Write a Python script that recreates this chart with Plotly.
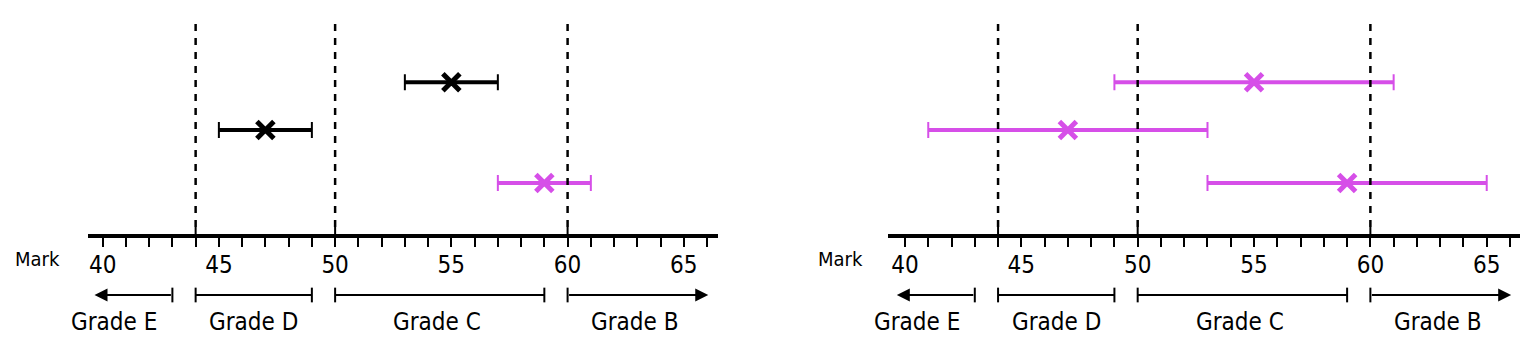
import plotly.graph_objects as go

# ---------------- data ----------------
marks = [55, 47, 59]                 # centre mark of each row (top -> bottom)
row_level = [3.9, 3.0, 2.0]          # vertical level of each row
left_err = [2, 2, 2]                 # +/- range, left panel
right_err = [6, 6, 6]                # +/- range, right panel
MAG = '#D64FE8'
left_colors = ['#000000', '#000000', MAG]
right_colors = [MAG, MAG, MAG]

boundaries = [44, 50, 60]            # dashed grade boundaries
grade_names = ['Grade E', 'Grade D', 'Grade C', 'Grade B']
grade_lo = [39.65, 44, 50, 60]       # arrow tip for open-ended grades
grade_hi = [43, 49, 59, 66.05]
grade_open = ['left', None, None, 'right']
grade_label_x = [40.5, 46.5, 54.4, 62.9]
tick_vals = [40, 45, 50, 55, 60, 65]

# ---------------- layout geometry ----------------
W, H = 1527, 352
PX_PER_LVL = 53.0
AXIS_PX = 236.0
y_bot = 1.0 - (H - AXIS_PX) / PX_PER_LVL
y_top = 1.0 + AXIS_PX / PX_PER_LVL
axis_pos = (1.0 - y_bot) / (y_top - y_bot)
BRACKET_LVL = 1.0 - (295 - AXIS_PX) / PX_PER_LVL
LABEL_LVL = 1.0 - (322 - AXIS_PX) / PX_PER_LVL
MARK_LVL = 1.0 - (259 - AXIS_PX) / PX_PER_LVL
TICKTOP_LVL = 1.0 + (AXIS_PX - 227) / PX_PER_LVL
DASHTOP_LVL = 1.0 + (AXIS_PX - 22) / PX_PER_LVL

FONT = 'DejaVu Sans Condensed, DejaVu Sans, sans-serif'

panels = [
    dict(xa='x', ya='y', xname='xaxis', yname='yaxis', dom=[88 / W, 718 / W],
         rng=[39.37, 66.47], err=left_err, colors=left_colors, mark_x=37.2 / W),
    dict(xa='x2', ya='y2', xname='xaxis2', yname='yaxis2', dom=[888 / W, 1520 / W],
         rng=[39.27, 66.43], err=right_err, colors=right_colors, mark_x=840 / W),
]

fig = go.Figure()
shapes, annotations = [], []
layout = {}


def arrow(p, tip, tail):
    return dict(x=tip, y=BRACKET_LVL, ax=tail, ay=BRACKET_LVL,
                xref=p['xa'], yref=p['ya'], axref=p['xa'], ayref=p['ya'],
                text='', showarrow=True, arrowhead=2, arrowsize=1.3,
                arrowwidth=2, arrowcolor='black', standoff=0, startstandoff=0)


for p in panels:
    # error bars: thick bar + thin caps + X marker
    for m, lvl, e, c in zip(marks, row_level, p['err'], p['colors']):
        fig.add_trace(go.Scatter(
            x=[m - e, m + e], y=[lvl, lvl], mode='lines',
            line=dict(color=c, width=4), xaxis=p['xa'], yaxis=p['ya'],
            hoverinfo='skip'))
        fig.add_trace(go.Scatter(
            x=[m], y=[lvl], mode='markers',
            marker=dict(symbol='x-thin', size=17, color=c,
                        line=dict(color=c, width=5)),
            error_x=dict(type='data', array=[e], color=c, thickness=2, width=8),
            xaxis=p['xa'], yaxis=p['ya']))

    # grade brackets
    for name, lo, hi, op, lx in zip(grade_names, grade_lo, grade_hi, grade_open, grade_label_x):
        if op == 'left':
            annotations.append(arrow(p, lo, hi))
            caps = [hi]
        elif op == 'right':
            annotations.append(arrow(p, hi, lo))
            caps = [lo]
        else:
            fig.add_trace(go.Scatter(x=[lo, hi], y=[BRACKET_LVL] * 2, mode='lines',
                                     line=dict(color='black', width=2),
                                     xaxis=p['xa'], yaxis=p['ya'], hoverinfo='skip'))
            caps = [lo, hi]
        fig.add_trace(go.Scatter(x=caps, y=[BRACKET_LVL] * len(caps), mode='markers',
                                 marker=dict(symbol='line-ns', size=10.5,
                                             line=dict(color='black', width=2)),
                                 xaxis=p['xa'], yaxis=p['ya'], hoverinfo='skip'))
        annotations.append(dict(x=lx, y=LABEL_LVL, xref=p['xa'], yref=p['ya'], text=name,
                                xanchor='center', yanchor='middle', showarrow=False,
                                font=dict(family=FONT, size=24, color='black')))

    # dashed boundaries and tall ticks
    for b in boundaries:
        shapes.append(dict(type='line', xref=p['xa'], yref=p['ya'], x0=b, x1=b,
                           y0=TICKTOP_LVL, y1=DASHTOP_LVL,
                           line=dict(color='black', width=2.5, dash='7px,7px')))
        shapes.append(dict(type='line', xref=p['xa'], yref=p['ya'], x0=b, x1=b,
                           y0=1.0, y1=TICKTOP_LVL, line=dict(color='black', width=2)))

    annotations.append(dict(x=p['mark_x'], y=MARK_LVL, xref='paper', yref=p['ya'], text='Mark',
                            xanchor='center', yanchor='middle', showarrow=False,
                            font=dict(family=FONT, size=20, color='black')))

    layout[p['xname']] = dict(
        domain=p['dom'], range=p['rng'], anchor='free', position=axis_pos,
        showline=True, linewidth=4, linecolor='black', showgrid=False, zeroline=False,
        tickmode='array', tickvals=tick_vals, ticks='outside', ticklen=9, tickwidth=2,
        tickcolor='black', tickfont=dict(family=FONT, size=24, color='black'),
        ticklabelstandoff=-3,
        minor=dict(tick0=40, dtick=1, ticks='outside', ticklen=9, tickwidth=2, tickcolor='black'),
        fixedrange=True)
    layout[p['yname']] = dict(domain=[0, 1], range=[y_bot, y_top], visible=False,
                              anchor=p['xa'], fixedrange=True)

fig.update_layout(
    width=W, height=H, margin=dict(l=0, r=0, t=0, b=0),
    paper_bgcolor='white', plot_bgcolor='white', showlegend=False,
    shapes=shapes, annotations=annotations, **layout)

fig.write_html('out.html')
